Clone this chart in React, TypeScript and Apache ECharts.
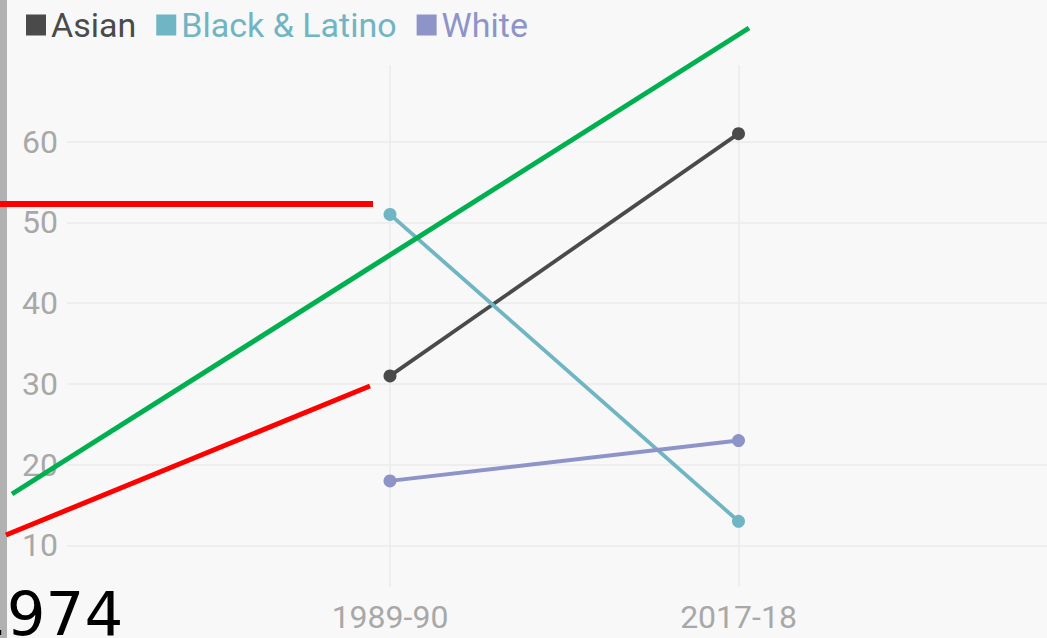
import React, { useEffect, useRef } from 'react';
import * as echarts from 'echarts';

const categories: string[] = ['1989-90', '2017-18'];
const seriesNames: string[] = ['Asian', 'Black & Latino', 'White'];
const asian: number[] = [31, 61];
const blackLatino: number[] = [51, 13];
const white: number[] = [18, 23];
const yMin = 4.86;
const yMax = 69.5;
const annotationYear = '1974';

const COLORS = ['#4a4a4a', '#6fb5c3', '#8d94c8'];
const BG = '#f8f8f8';
const GRID = '#ebebeb';
const LABEL = '#a8a8a8';
const FONT = 'Roboto, "Noto Sans", sans-serif';

export default function App() {
  const ref = useRef<HTMLDivElement>(null);

  useEffect(() => {
    document.body.style.margin = '0';
    const chart = echarts.init(ref.current as HTMLDivElement, null, { renderer: 'svg' });
    const values = [asian, blackLatino, white];
    const top = 65;
    const bottom = 51;

    chart.setOption({
      animation: false,
      backgroundColor: BG,
      color: COLORS,
      textStyle: { fontFamily: FONT },
      legend: {
        left: 21,
        top: 3,
        icon: 'rect',
        itemWidth: 20,
        itemHeight: 21,
        itemGap: 20,
        data: seriesNames.map((n, i) => ({ name: n, textStyle: { color: COLORS[i] } })),
        textStyle: { fontSize: 34, fontFamily: FONT },
      },
      grid: [
        { left: 22, right: 0, top, bottom },
        { left: 390, right: 308.5, top, bottom },
      ],
      xAxis: [
        { gridIndex: 0, type: 'value', min: 0, max: 1, show: false },
        {
          gridIndex: 1,
          type: 'category',
          data: categories,
          boundaryGap: false,
          axisLine: { show: false },
          axisTick: { show: false },
          axisLabel: { color: LABEL, fontSize: 32, margin: 14, fontFamily: FONT },
          splitLine: { show: true, lineStyle: { color: GRID, width: 1.5 } },
        },
      ],
      yAxis: [
        {
          gridIndex: 0,
          type: 'value',
          min: yMin,
          max: yMax,
          axisLine: { show: false },
          axisTick: { show: false },
          axisLabel: {
            inside: true,
            margin: 0,
            color: LABEL,
            fontSize: 32,
            fontFamily: FONT,
            backgroundColor: BG,
            padding: [0, 9, 0, 0],
            showMinLabel: false,
            showMaxLabel: false,
          },
          splitLine: {
            show: true,
            lineStyle: { color: GRID, width: 1.5 },
            showMinLine: false,
            showMaxLine: false,
          },
        },
        {
          gridIndex: 1,
          type: 'value',
          min: yMin,
          max: yMax,
          show: false,
          splitLine: { show: false },
        },
      ],
      series: seriesNames.map((name, i) => ({
        name,
        type: 'line',
        xAxisIndex: 1,
        yAxisIndex: 1,
        data: values[i],
        symbol: 'circle',
        symbolSize: 13,
        lineStyle: { width: 3.8, color: COLORS[i] },
        itemStyle: { color: COLORS[i] },
      })),
      graphic: [
        {
          type: 'rect',
          z: 50,
          shape: { x: 0, y: 0, width: 7, height: 638 },
          style: { fill: '#b1b1b1' },
        },
        {
          type: 'line',
          z: 100,
          shape: { x1: 12, y1: 494, x2: 749, y2: 28 },
          style: { stroke: '#00b050', lineWidth: 5 },
        },
        {
          type: 'line',
          z: 100,
          shape: { x1: 0, y1: 204, x2: 373, y2: 204 },
          style: { stroke: '#ff0000', lineWidth: 6 },
        },
        {
          type: 'line',
          z: 100,
          shape: { x1: 6, y1: 535, x2: 370, y2: 386 },
          style: { stroke: '#ff0000', lineWidth: 5 },
        },
        {
          type: 'text',
          z: 100,
          x: -32,
          y: 613,
          style: {
            text: annotationYear,
            font: '61px "DejaVu Sans"',
            fill: '#000000',
            verticalAlign: 'middle',
            align: 'left',
          },
        },
      ],
    });

    return () => {
      chart.dispose();
    };
  }, []);

  return <div ref={ref} style={{ width: 1047, height: 638 }} />;
}
